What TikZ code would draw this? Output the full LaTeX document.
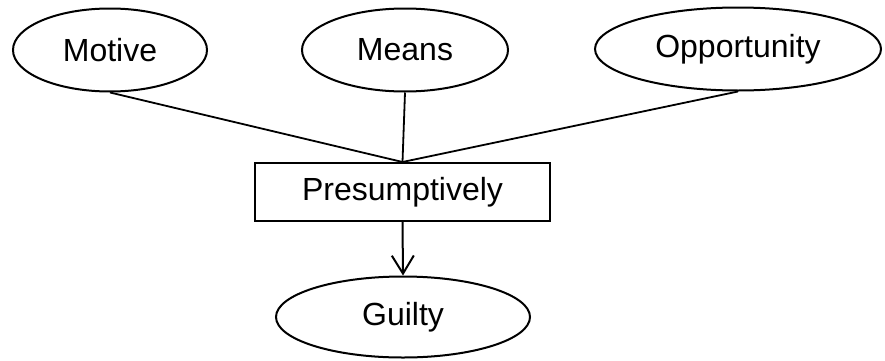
\documentclass[tikz,border=0pt]{standalone}
\usepackage{fontspec}
\setmainfont{Liberation Sans}
\usetikzlibrary{shapes.geometric,arrows.meta}
\begin{document}
\begin{tikzpicture}[x=1pt,y=1pt,
  every node/.style={font=\fontsize{32}{38}\selectfont, inner sep=0pt, line width=2pt},
  factor/.style={draw, ellipse, minimum height=83pt},
  verdict/.style={draw, rectangle, minimum width=295pt, minimum height=58pt},
  link/.style={line width=1.8pt},
  flow/.style={line width=2pt, -{Straight Barb[length=18pt,width=22pt,line width=2pt]}}]
  \useasboundingbox (0,0) rectangle (885,360);
  \node[factor, minimum width=194pt] (mot) at (110,310) {Motive};
  \node[factor, minimum width=206pt] (mea) at (405,310) {Means};
  \node[factor, minimum width=286pt] (opp) at (738,311) {Opportunity};
  \node[verdict] (pre) at (402.5,168) {Presumptively};
  \node[factor, minimum width=254pt, minimum height=81pt] (gui) at (403,43) {Guilty};
  \draw[link] (mot.south) -- (pre.north);
  \draw[link] (mea.south) -- (pre.north);
  \draw[link] (opp.south) -- (pre.north);
  \draw[flow] (pre.south) -- (gui.north);
\end{tikzpicture}
\end{document}
